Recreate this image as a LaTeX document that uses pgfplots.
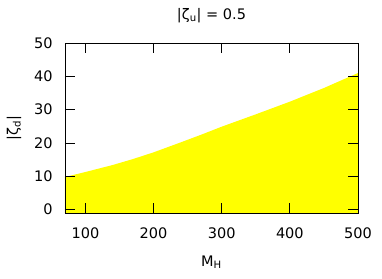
\documentclass[border=0pt]{standalone}
\usepackage{fontspec}
\setmainfont{DejaVu Sans}
\usepackage{pgfplots}
\pgfplotsset{compat=1.18}
\definecolor{fillyel}{RGB}{255,255,0}
\newcommand{\lf}{\fontsize{14.5bp}{17bp}\selectfont}
\begin{document}
\begin{tikzpicture}
\begin{axis}[
  scale only axis,
  width=293bp, height=170bp,
  xmin=70, xmax=500, ymin=-1, ymax=50,
  xtick={100,200,300,400,500},
  ytick={0,10,20,30,40,50},
  tick align=inside,
  major tick length=10bp,
  axis on top=true,
  axis line style={line width=0.9bp},
  every tick/.style={black, line width=0.9bp},
  /pgf/number format/assume math mode=true,
  tick label style={font=\lf},
  xticklabel shift=11bp,
  yticklabel shift=9bp,
  title={|ζ\textsubscript{u}| = 0.5},
  title style={font=\lf, at={(axis description cs:0.5,1)}, anchor=base, yshift=18bp},
  xlabel={M\textsubscript{H}},
  xlabel style={font=\lf, at={(axis description cs:0.5,0)}, anchor=base, yshift=-53bp},
  ylabel={|ζ\textsubscript{d}|},
  ylabel style={font=\lf, at={(axis description cs:0,0.5)}, anchor=center, rotate=0, yshift=51bp},
  clip=true,
]
\addplot[fill=fillyel, draw=none] table {
x y
70 -1
70 9.8
100 11.3
140 13.4
170 15.2
200 17.2
240 20.2
270 22.5
300 24.9
350 28.6
400 32.4
450 36.5
500 41.0
500 -1
} -- cycle;
\coordinate (bl) at (rel axis cs:0,0);
\end{axis}
\pgfresetboundingbox
\path (bl) ++(-65bp,-66bp) rectangle ++(382bp,279bp);
\end{tikzpicture}
\end{document}
